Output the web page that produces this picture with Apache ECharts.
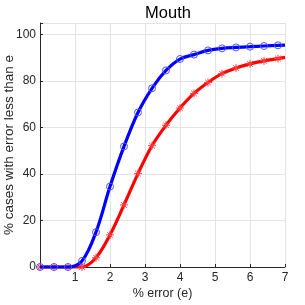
<!DOCTYPE html>
<html><head><meta charset="utf-8">
<script src="https://cdn.jsdelivr.net/npm/echarts@6/dist/echarts.min.js"></script>
<style>html,body{margin:0;padding:0;background:#fff}#c{width:305px;height:305px}</style>
</head><body><div id="c"></div>
<script>
const xValues = [0, 0.4, 0.8, 1.2, 1.6, 2.0, 2.4, 2.8, 3.2, 3.6, 4.0, 4.4, 4.8, 5.2, 5.6, 6.0, 6.4, 6.8, 7.0];
const blueValues = [0, 0, 0, 2.6, 15, 34.6, 51.9, 66.5, 76.9, 84.6, 89.5, 91.4, 93.2, 94.1, 94.5, 94.8, 95.1, 95.4, 95.5];
const redValues = [0, 0, 0, 0, 4, 13.8, 26.7, 40.2, 52.2, 61, 68.4, 74.7, 79.4, 83.2, 85.6, 87.4, 88.7, 89.7, 90.2];
const xTicks = ['1', '2', '3', '4', '5', '6', '7'];
const yTicks = ['0', '20', '40', '60', '80', '100'];
const titleText = 'Mouth';
const xName = '% error (e)';
const yName = '% cases with error less than e';

const font = 'Liberation Sans';
function mk(vals) {
  return xValues.map((x, i) => {
    const p = {value: [x, vals[i]]};
    if (x === 7.0) p.symbol = 'none';
    return p;
  });
}
const star = 'path://M0,-10L0,10M-10,0L10,0M-7,-7L7,7M-7,7L7,-7';
const chart = echarts.init(document.getElementById('c'));
chart.setOption({
  animation: false,
  backgroundColor: '#fff',
  title: {text: titleText, left: 163, top: 0, textAlign: 'center',
    textStyle: {fontFamily: font, fontSize: 16.5, fontWeight: 'normal', color: '#000'}},
  grid: {left: 40, right: 20, top: 23, bottom: 38, containLabel: false, outerBoundsMode: 'none'},
  xAxis: {type: 'value', min: 0, max: 7, interval: 1,
    name: xName, nameLocation: 'middle', nameGap: 20, nameMoveOverlap: false,
    nameTextStyle: {fontFamily: font, fontSize: 12.5, color: '#262626'},
    axisLine: {show: true, lineStyle: {color: '#262626', width: 1}},
    axisTick: {show: true, inside: true, length: 3, lineStyle: {color: '#262626'}},
    axisLabel: {fontFamily: font, fontSize: 12, color: '#262626', margin: 5,
      formatter: v => { const i = xTicks.indexOf(String(v)); return i >= 0 ? xTicks[i] : ''; }},
    splitLine: {show: true, lineStyle: {color: '#e3e3e3', width: 1}}},
  yAxis: {type: 'value', min: 0, max: 105, interval: 20,
    name: yName, nameLocation: 'middle', nameGap: 24, nameRotate: 90, nameMoveOverlap: false,
    nameTextStyle: {fontFamily: font, fontSize: 13.5, color: '#262626'},
    axisLine: {show: true, lineStyle: {color: '#262626', width: 1}},
    axisTick: {show: true, inside: true, length: 3, lineStyle: {color: '#262626'}},
    axisLabel: {fontFamily: font, fontSize: 12, color: '#262626', margin: 4,
      formatter: v => { const i = yTicks.indexOf(String(v)); return i >= 0 ? yTicks[i] : ''; }},
    splitLine: {show: true, lineStyle: {color: '#e3e3e3', width: 1}}},
  series: [
    {type: 'line', data: mk(redValues), smooth: 0.35, clip: false,
      lineStyle: {color: '#ff0000', width: 3.2},
      symbol: star, symbolSize: 8,
      itemStyle: {color: 'rgba(0,0,0,0)', borderColor: '#ff4040', borderWidth: 1}, z: 2},
    {type: 'line', data: mk(blueValues), smooth: 0.35, clip: false,
      lineStyle: {color: '#0000ff', width: 3.2},
      symbol: 'circle', symbolSize: 7,
      itemStyle: {color: 'rgba(0,0,0,0)', borderColor: '#5050ff', borderWidth: 1}, z: 3}
  ]
});
</script></body></html>
